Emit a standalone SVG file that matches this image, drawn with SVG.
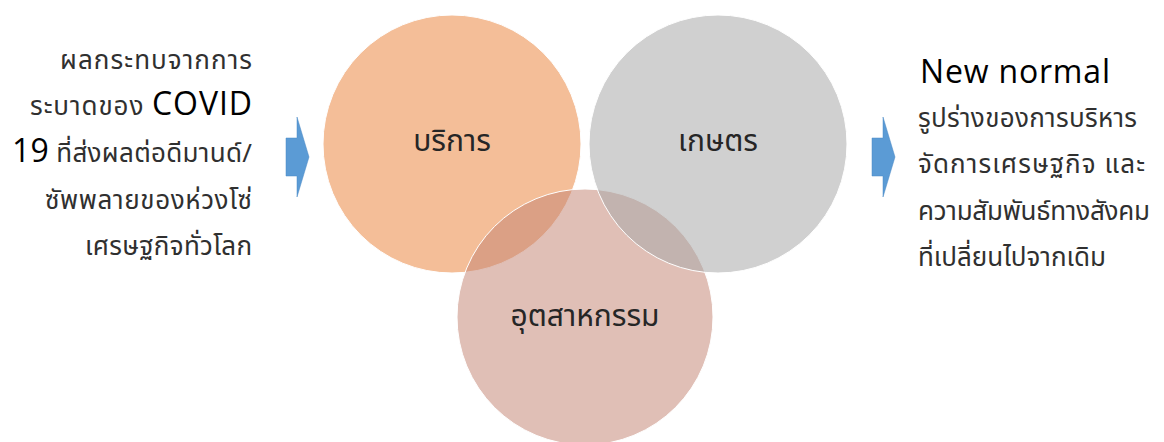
<svg xmlns="http://www.w3.org/2000/svg" width="1164" height="442" viewBox="0 0 1164 442">
<style>
.t{font-family:"Noto Sans Thai","Leelawadee UI","Tahoma","Noto Sans","DejaVu Sans",sans-serif;font-size:26px;fill:#303030}
.lat{font-family:"Open Sans","Noto Sans",sans-serif;font-size:32px;fill:#000}
.lbl{font-family:"Noto Sans Thai","Noto Sans","DejaVu Sans",sans-serif;font-size:30px;fill:#262626;text-anchor:middle}
.arrow{fill:#5B9BD5;stroke:#4A89C4;stroke-width:0.5}
</style>
<rect width="1164" height="442" fill="#fff"/>
<g id="circle-service">
<circle cx="452" cy="144" r="129" fill="#F4BE98" stroke="#fff" stroke-width="1"/>
<text class="lbl" x="452" y="151">บริการ</text>
</g>
<g id="circle-industry">
<circle cx="585" cy="317" r="128" fill="#C38473" fill-opacity="0.52" stroke="#fff" stroke-width="1"/>
<text class="lbl" x="585" y="326">อุตสาหกรรม</text>
</g>
<g id="circle-agri">
<circle cx="718" cy="144" r="129" fill="#AAAAAA" fill-opacity="0.55" stroke="#fff" stroke-width="1"/>
<text class="lbl" x="718" y="151">เกษตร</text>
</g>
<g id="left-text">
<text class="t" text-anchor="end" x="252" y="69" textLength="192" lengthAdjust="spacing">ผลกระทบจากการ</text>
<text class="t" text-anchor="end" x="252" y="115" textLength="222" lengthAdjust="spacing">ระบาดของ <tspan class="lat">COVID</tspan></text>
<text class="t" text-anchor="end" x="252" y="162" textLength="240" lengthAdjust="spacing"><tspan class="lat">19</tspan> ที่ส่งผลต่อดีมานด์/</text>
<text class="t" text-anchor="end" x="252" y="209" textLength="207" lengthAdjust="spacing">ซัพพลายของห่วงโซ่</text>
<text class="t" text-anchor="end" x="252" y="255" textLength="167" lengthAdjust="spacing">เศรษฐกิจทั่วโลก</text>
</g>
<g id="right-text">
<text class="lat" x="920" y="83" textLength="190" lengthAdjust="spacing">New normal</text>
<text class="t" x="918" y="127" textLength="219" lengthAdjust="spacing">รูปร่างของการบริหาร</text>
<text class="t" x="918" y="173" textLength="227" lengthAdjust="spacing">จัดการเศรษฐกิจ และ</text>
<text class="t" x="918" y="220" textLength="232" lengthAdjust="spacing">ความสัมพันธ์ทางสังคม</text>
<text class="t" x="918" y="266">ที่เปลี่ยนไปจากเดิม</text>
</g>
<g id="connectors">
<path class="arrow" d="M286,138 H297 V117 L309,157 L297,197 V176 H286 Z"/>
<path class="arrow" d="M872,138 H883 V117 L895,157 L883,197 V176 H872 Z"/>
</g>
</svg>
